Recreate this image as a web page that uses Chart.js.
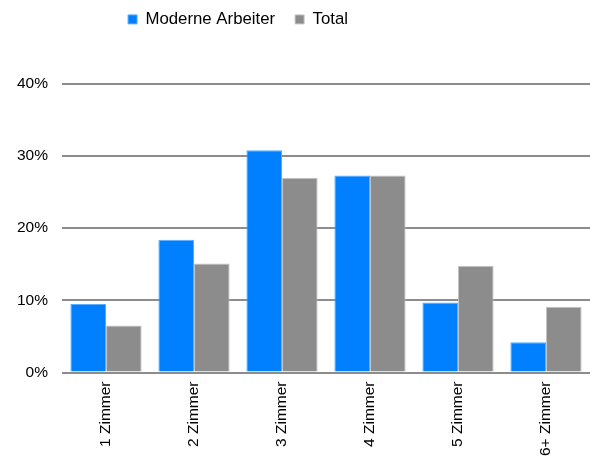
<!DOCTYPE html>
<html>
<head>
<meta charset="utf-8">
<script src="https://cdn.jsdelivr.net/npm/chart.js@4"></script>
<style>
  body { margin: 0; background: #fff; }
</style>
</head>
<body>
<canvas id="chart" width="590" height="459"></canvas>
<script>
const categories = ["1 Zimmer", "2 Zimmer", "3 Zimmer", "4 Zimmer", "5 Zimmer", "6+ Zimmer"];
const moderneArbeiter = [9.5, 18.4, 30.8, 27.3, 9.7, 4.2];
const total = [6.5, 15.1, 27.0, 27.3, 14.8, 9.1];
const yTicks = [0, 10, 20, 30, 40];

Chart.defaults.font.family = "'Liberation Sans', Arial, sans-serif";
Chart.defaults.color = "#000";

// put the legend where the original one is, independent of the plot padding
const legendPlace = {
  id: "legendPlace",
  afterLayout(chart) {
    const lg = chart.legend;
    const h = lg.height;
    lg.left = -57;
    lg.right = 533;
    lg.top = -9;
    lg.bottom = -9 + h;
  }
};

const data = {
  labels: categories,
  datasets: [
    {
      label: "Moderne Arbeiter",
      data: moderneArbeiter,
      backgroundColor: "#0080ff",
      borderColor: "#5aaeff",
      borderWidth: 1,
    },
    {
      label: "Total",
      data: total,
      backgroundColor: "#8c8c8c",
      borderColor: "#c4c4c4",
      borderWidth: 1,
    }
  ]
};

const config = {
  type: "bar",
  data: data,
  plugins: [legendPlace],
  options: {
    responsive: false,
    animation: false,
    layout: { padding: { top: 37, right: 0, left: 3, bottom: 2 } },
    datasets: {
      bar: { categoryPercentage: 0.81, barPercentage: 1.0 }
    },
    plugins: {
      legend: {
        position: "top",
        labels: {
          boxWidth: 9,
          boxHeight: 9,
          padding: 20,
          font: { size: 16.8 },
          color: "#000"
        }
      },
      tooltip: { enabled: false }
    },
    scales: {
      x: {
        grid: { display: false },
        border: { display: false },
        ticks: {
          minRotation: 90,
          maxRotation: 90,
          padding: 1,
          font: { size: 15.5 }
        }
      },
      y: {
        min: 0,
        max: 40,
        afterBuildTicks: (axis) => { axis.ticks = yTicks.map(v => ({ value: v })); },
        grid: { color: "#8c8c8c", lineWidth: 2, drawTicks: false },
        border: { display: false },
        ticks: {
          padding: 14,
          font: { size: 15.5 },
          callback: (v) => v + "%"
        }
      }
    }
  }
};

new Chart(document.getElementById("chart"), config);
</script>
</body>
</html>
